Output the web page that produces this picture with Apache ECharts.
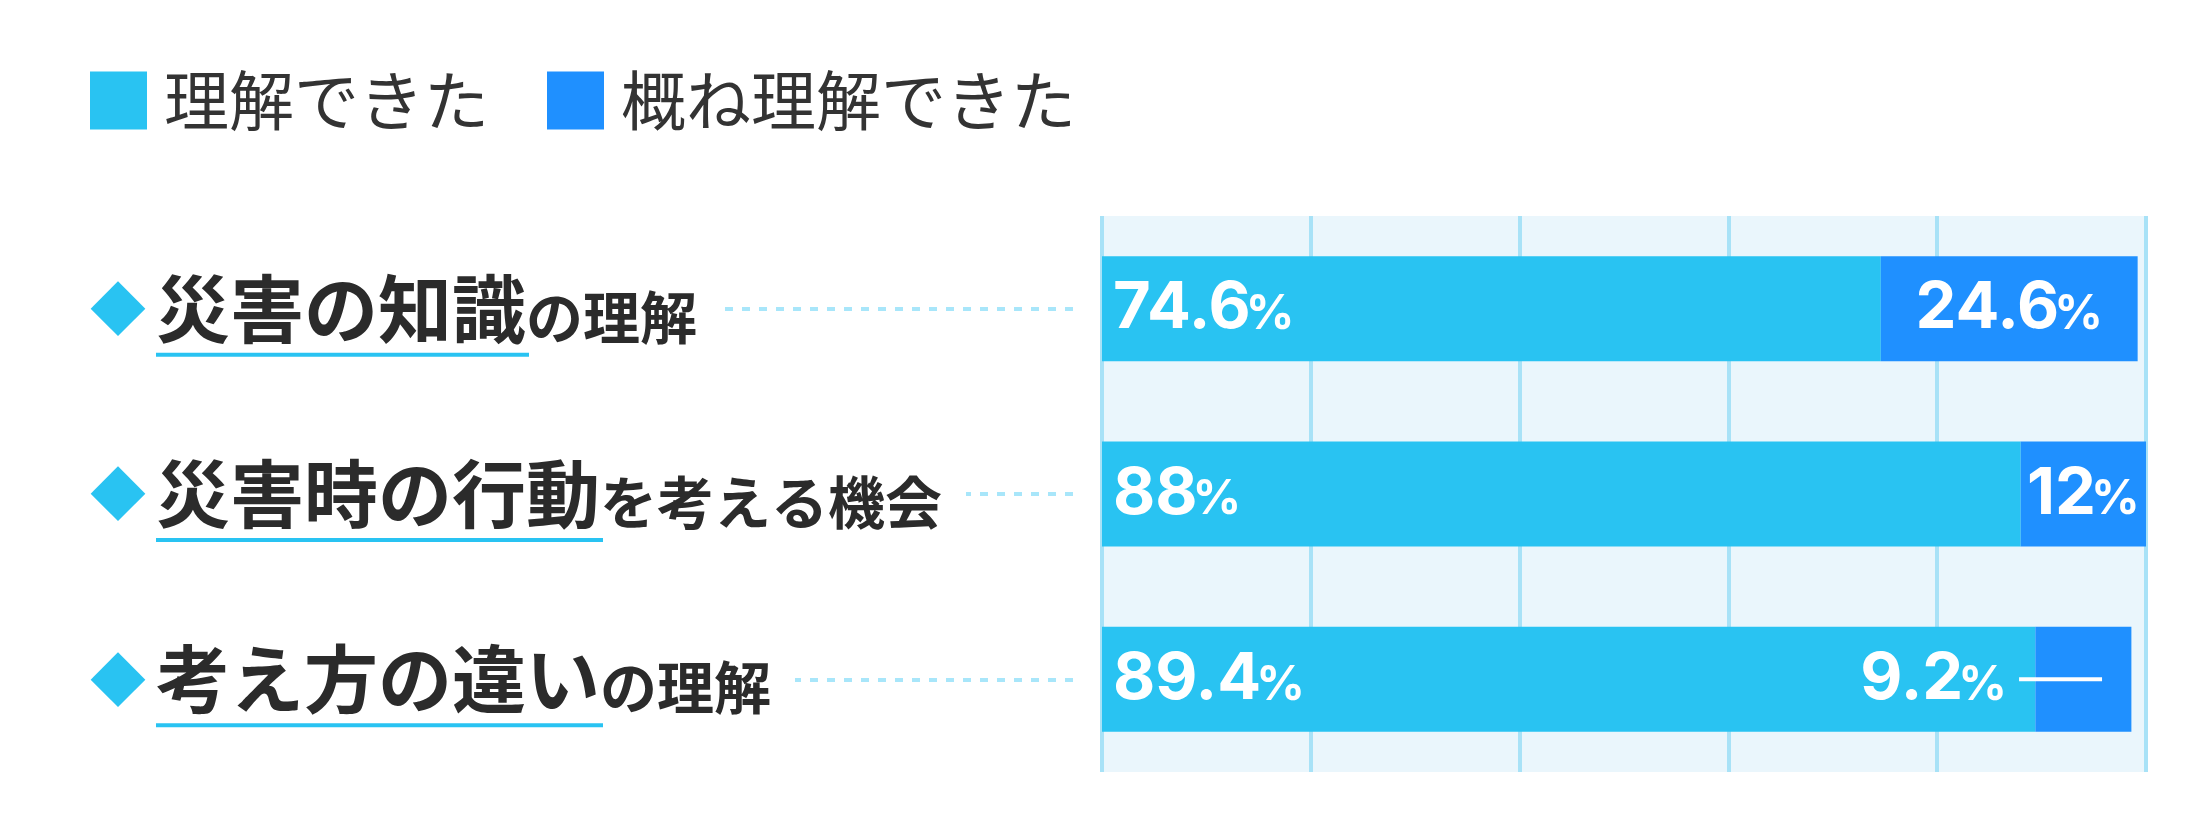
<!DOCTYPE html>
<html>
<head>
<meta charset="utf-8">
<script src="https://cdn.jsdelivr.net/npm/echarts@6/dist/echarts.min.js"></script>
<style>
html, body { margin: 0; padding: 0; background: #fff; }
#chart { width: 2206px; height: 838px; }
</style>
</head>
<body>
<div id="chart"></div>
<script>
// data
var catMain = ['災害の知識', '災害時の行動', '考え方の違い'];
var catSub = ['の理解', 'を考える機会', 'の理解'];
var seriesNames = ['理解できた', '概ね理解できた'];
var understood = [74.6, 88, 89.4];
var mostly = [24.6, 12, 9.2];
var xTicks = [0, 20, 40, 60, 80, 100];

var categories = catMain.map(function (m, i) { return m + catSub[i]; });

var JP = '"Noto Sans CJK JP", sans-serif';
var NUM = 'Inter, "Noto Sans", sans-serif';
var LIGHT = '#29c3f2';
var DARK = '#1f90ff';

// leader dots: blank stretch next to the plot, then 8px dashes
var dotDash = [0, 29];
for (var k = 0; k < 40; k++) { dotDash.push(8, 9); }

// category label pieces
var catRich = {
    t: { width: 10, height: 18, lineHeight: 18 },
    d: { fontFamily: JP, fontSize: 56, color: LIGHT, width: 66, align: 'left', height: 74, lineHeight: 74, backgroundColor: '#fff' },
    m: { fontFamily: JP, fontSize: 74, fontWeight: 'bold', color: '#2b2b2b', height: 74, lineHeight: 74, backgroundColor: '#fff' },
    s: { fontFamily: JP, fontSize: 57, fontWeight: 'bold', color: '#2b2b2b', verticalAlign: 'bottom', lineHeight: 74, backgroundColor: '#fff' },
    g: { width: 24, height: 20, backgroundColor: '#fff' },
    sp: { width: 66, height: 4, lineHeight: 18 }
};
catMain.forEach(function (m, i) {
    catRich['u' + i] = { width: m.length * 74 + 3, height: 4, lineHeight: 18, backgroundColor: LIGHT };
});

var barRich = {
    n: { fontFamily: NUM, fontSize: 65, fontWeight: 'bold', color: '#fff', height: 64, lineHeight: 64 },
    p: { fontFamily: NUM, fontSize: 48, fontWeight: 'bold', color: '#fff', verticalAlign: 'bottom', padding: [0, 0, 2, -5] },
    g: { width: 12 },
    ln: { width: 83, height: 4, backgroundColor: '#fff' }
};

var myChart = echarts.init(document.getElementById('chart'));

var option = {
    animation: false,
    legend: {
        left: 90,
        top: 68,
        padding: 0,
        icon: 'rect',
        itemWidth: 57,
        itemHeight: 58,
        itemGap: 58,
        textStyle: { fontFamily: JP, fontSize: 65, color: '#333', padding: [0, 0, 0, 12] },
        data: seriesNames
    },
    grid: {
        show: true,
        left: 1102,
        right: 60,
        top: 216,
        bottom: 66,
        backgroundColor: '#eaf6fc',
        borderWidth: 0
    },
    xAxis: {
        type: 'value',
        min: xTicks[0],
        max: xTicks[xTicks.length - 1],
        interval: xTicks[1] - xTicks[0],
        axisLabel: { show: false },
        axisLine: { show: false },
        axisTick: { show: false },
        splitLine: { show: true, lineStyle: { color: '#a8e2f7', width: 4 } }
    },
    yAxis: {
        type: 'category',
        inverse: true,
        data: categories,
        axisLine: { show: false },
        axisTick: {
            show: true,
            alignWithLabel: true,
            length: 452,
            lineStyle: { color: '#a8e6fa', width: 4, type: dotDash }
        },
        axisLabel: {
            margin: 1012,
            align: 'left',
            fontSize: 12,
            formatter: function (value, index) {
                return '{t|}\n{d|◆}{m|' + catMain[index] + '}{s|' + catSub[index] + '}{g|}\n{sp|}{u' + index + '|}';
            },
            rich: catRich
        }
    },
    series: [
        {
            name: seriesNames[0],
            type: 'bar',
            stack: 'total',
            barWidth: 105,
            itemStyle: { color: LIGHT },
            label: {
                show: true,
                position: 'insideLeft',
                distance: 11,
                formatter: '{n|{c}}{p|%}',
                rich: barRich
            },
            data: understood
        },
        {
            name: seriesNames[1],
            type: 'bar',
            stack: 'total',
            barWidth: 105,
            itemStyle: { color: DARK },
            label: {
                show: true,
                position: 'inside',
                formatter: '{n|{c}}{p|%}',
                rich: barRich
            },
            // narrow segments get their label pulled out to the left with a leader line
            data: mostly.map(function (v) {
                if (v < 10) {
                    return {
                        value: v,
                        label: { position: 'insideLeft', offset: [-180, 0], formatter: '{n|{c}}{p|%}{g|}{ln|}' }
                    };
                }
                return v;
            })
        }
    ]
};

myChart.setOption(option);
</script>
</body>
</html>
